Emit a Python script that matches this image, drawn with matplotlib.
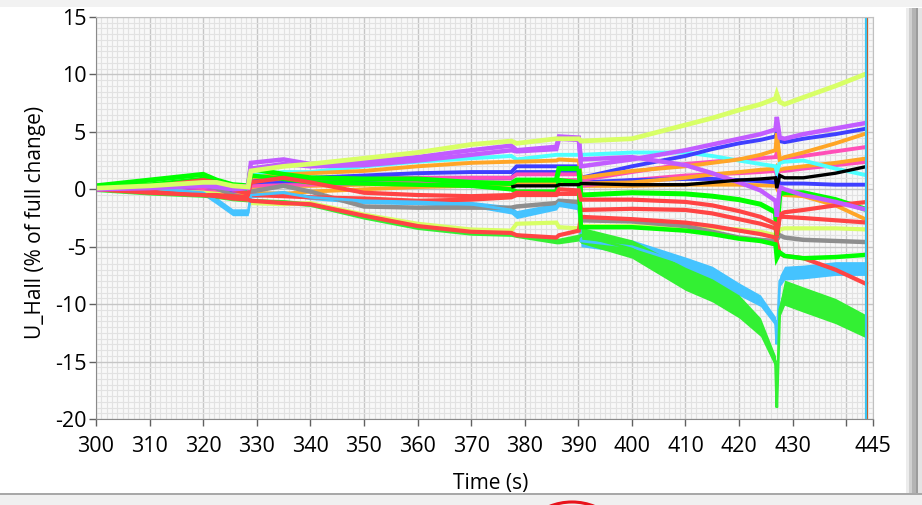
import numpy as np
import matplotlib
matplotlib.use("Agg")
import matplotlib.pyplot as plt
from matplotlib.patches import Rectangle, Circle
from matplotlib.transforms import IdentityTransform

plt.rcParams['font.family'] = ['Open Sans', 'DejaVu Sans']
plt.rcParams['axes.unicode_minus'] = False

# Sample times (s) at which every channel is tabulated
time_s = [300, 310, 320, 322.5, 325.5, 328.4, 328.9, 335, 340, 350, 360, 370,
          377.5, 378.5, 385.9, 386.4, 390.1, 390.5, 400, 410, 415, 420, 424,
          426.8, 427.05, 427.6, 428.5, 432, 438, 444]

# U_Hall channels, % of full change
yg_top = [0.1, 0.3, 0.6, 0.6, 0.3, 0.2, 1.6, 2.0, 2.2, 2.7, 3.2, 3.9, 4.2, 4.0, 4.4, 4.4, 4.4, 4.2, 4.4, 5.6, 6.2, 6.9, 7.4, 7.9, 8.3, 7.6, 7.4, 8.0, 9.0, 10.1]
purple_top = [0.0, 0.2, 0.4, 0.3, 0.2, 0.3, 2.3, 2.6, 2.2, 2.4, 2.8, 3.4, 3.8, 3.4, 3.7, 4.6, 4.5, 2.0, 2.6, 3.4, 3.9, 4.4, 4.8, 5.2, 6.3, 4.5, 4.4, 4.8, 5.3, 5.8]
purple_down = [0.0, 0.1, 0.3, 0.2, 0.0, 0.1, 1.8, 2.2, 2.0, 2.1, 2.5, 3.0, 3.4, 3.3, 3.5, 4.4, 4.3, 2.6, 2.8, 2.1, 1.4, 0.6, -0.1, -1.0, -2.4, 0.2, 0.0, -0.5, -1.1, -1.8]
blue_a = [0.0, 0.1, 0.3, 0.2, 0.0, 0.0, 0.9, 1.0, 1.0, 1.2, 1.4, 1.5, 1.5, 2.0, 2.0, 2.0, 2.0, 1.0, 2.0, 2.9, 3.5, 4.0, 4.3, 4.6, 5.0, 4.2, 4.1, 4.4, 4.8, 5.3]
blue_b = [0.0, 0.0, 0.2, 0.1, -0.1, -0.1, 0.6, 0.7, 0.7, 0.8, 1.0, 1.0, 1.0, 1.5, 1.5, 1.5, 1.5, 0.6, 0.8, 0.9, 0.9, 0.8, 0.7, 0.6, 1.0, 0.5, 0.5, 0.5, 0.4, 0.4]
orange_a = [0.0, 0.1, 0.4, 0.3, 0.1, 0.1, 1.0, 1.3, 1.4, 1.6, 2.0, 2.3, 2.4, 2.4, 2.5, 2.6, 2.5, 1.0, 1.6, 2.0, 2.3, 2.6, 3.0, 3.4, 4.9, 2.6, 2.8, 3.2, 4.0, 4.9]
orange_b = [0.0, -0.2, -0.3, -0.4, -0.5, -0.6, -0.3, -0.4, -0.2, 0.0, 0.2, 0.3, 0.4, 0.6, 0.6, 0.6, 0.6, 0.5, 0.6, 1.0, 1.3, 1.5, 1.7, 1.8, 2.0, 1.7, 1.8, 2.0, 2.3, 2.7]
orange_c = [0.0, -0.1, -0.2, -0.2, -0.3, -0.3, 0.2, 0.3, 0.3, 0.4, 0.5, 0.5, 0.5, 0.7, 0.7, 0.7, 0.7, 0.3, 0.3, 0.4, 0.4, 0.4, 0.35, 0.3, 0.1, -0.4, -0.5, -0.6, -1.4, -2.7]
pink_a = [0.0, 0.0, 0.2, 0.1, 0.0, -0.1, 0.8, 0.9, 0.9, 1.0, 1.0, 1.0, 1.0, 1.3, 1.3, 1.3, 1.3, 0.8, 1.5, 2.2, 2.4, 2.6, 2.7, 2.8, 3.2, 2.6, 2.7, 2.9, 3.3, 3.7]
pink_b = [0.0, -0.1, 0.0, -0.1, -0.2, -0.3, 0.3, 0.4, 0.4, 0.5, 0.6, 0.6, 0.6, 0.8, 0.8, 0.8, 0.8, 0.3, 0.8, 1.2, 1.3, 1.4, 1.5, 1.6, 1.2, 1.6, 1.6, 1.8, 2.1, 2.4]
cyan = [0.0, 0.1, 0.5, 0.4, 0.2, 0.2, 1.2, 1.5, 1.5, 2.0, 2.4, 2.7, 2.9, 2.6, 3.0, 3.0, 3.0, 3.0, 3.2, 3.2, 2.9, 2.5, 2.2, 2.0, 1.5, 2.3, 2.4, 2.5, 1.8, 1.2]
black = [np.nan] * 12 + [0.2, 0.3, 0.3, 0.4, 0.4, 0.5, 0.4, 0.4, 0.6, 0.8, 0.9, 1.0, 0.1, 1.2, 1.0, 1.0, 1.4, 2.0]
green_a = [0.3, 0.8, 1.3, 0.8, 0.4, 0.3, 1.8, 1.3, 1.0, 0.9, 0.9, 0.6, 0.5, 0.8, 0.8, 1.8, 1.8, -0.5, -0.3, -0.4, -0.6, -0.9, -1.3, -2.0, -4.0, -0.4, -0.3, -0.3, -0.9, -1.8]
green_b = [0.1, 0.4, 0.9, 0.6, 0.1, 0.0, 1.2, 0.9, 0.6, 0.5, 0.4, 0.3, 0.0, -0.2, -0.2, 0.8, 0.6, -3.3, -3.3, -3.6, -3.9, -4.3, -4.5, -4.8, -6.0, -5.5, -5.8, -6.0, -5.9, -5.7]
green_c = [0.0, -0.3, -0.5, -0.6, -0.8, -0.9, -1.0, -1.1, -1.3, -2.4, -3.3, -3.8, -3.9, -4.0, -4.5, -4.5, -4.2, -4.0, -5.2, -7.8, -8.8, -10.2, -12.0, -15.0, -19.0, -10.5, -9.0, -9.6, -10.6, -12.0]
light_blue = [0.0, 0.1, -0.3, -1.0, -2.0, -2.0, -0.5, -0.3, -0.7, -1.0, -1.1, -1.3, -1.8, -2.2, -1.5, -1.2, -1.5, -4.5, -5.0, -6.5, -7.3, -8.7, -9.7, -11.5, -13.5, -8.0, -7.3, -7.2, -6.9, -6.9]
gray = [0.0, 0.1, 0.4, 0.1, -0.5, -0.8, -0.2, 0.3, -0.2, -1.5, -1.6, -1.6, -1.6, -1.5, -1.2, -1.0, -1.1, -2.7, -2.8, -3.2, -3.7, -4.2, -4.4, -4.5, -4.4, -4.0, -4.2, -4.4, -4.5, -4.6]
red_a = [0.0, 0.2, 0.8, 0.6, 0.0, -0.4, 0.6, 1.0, 0.6, -0.3, -0.5, -0.6, -0.5, -0.3, -0.4, 0.0, -0.1, -0.9, -0.9, -1.1, -1.4, -1.9, -2.4, -3.0, -4.0, -2.2, -2.0, -1.8, -1.4, -1.1]
red_b = [0.0, -0.2, -0.5, -0.5, -0.6, -0.7, -0.5, -0.6, -0.7, -0.8, -1.0, -0.9, -0.7, -0.5, -0.5, -0.4, -0.4, -1.8, -1.7, -1.8, -2.1, -2.6, -3.0, -3.4, -4.2, -2.4, -2.4, -2.5, -2.7, -2.9]
red_c = [0.0, -0.3, -0.5, -0.6, -0.8, -0.9, -1.0, -1.2, -1.3, -2.3, -3.2, -3.7, -3.8, -4.0, -4.2, -4.0, -3.6, -2.4, -2.6, -2.9, -3.2, -3.6, -3.9, -4.2, -4.6, -5.6, -5.8, -6.0, -7.0, -8.3]
yg_low = [0.0, -0.1, -0.3, -0.4, -0.6, -0.8, -1.2, -1.3, -1.2, -2.2, -3.0, -3.5, -3.6, -3.0, -2.9, -3.3, -3.4, -3.2, -3.2, -3.3, -3.4, -3.5, -3.7, -4.0, -4.2, -3.5, -3.4, -3.4, -3.4, -3.5]

# half-width of the noise band on the two noisiest channels
green_c_spread = [0.2, 0.2, 0.2, 0.2, 0.2, 0.2, 0.2, 0.2, 0.2, 0.2, 0.2, 0.2, 0.2, 0.2, 0.25, 0.25, 0.3, 0.7, 0.8, 1.0, 1.0, 1.0, 0.8, 0.5, 0.2, 0.6, 1.1, 1.1, 1.1, 1.0]
light_blue_spread = [0.2, 0.2, 0.2, 0.3, 0.3, 0.3, 0.25, 0.2, 0.2, 0.25, 0.25, 0.25, 0.35, 0.35, 0.3, 0.3, 0.3, 0.5, 0.6, 0.6, 0.6, 0.55, 0.5, 0.4, 0.2, 0.5, 0.6, 0.6, 0.6, 0.6]

# Drawing order, colour and trace width of each channel
channels = [
    (orange_c, '#ffa526', 2.8), (pink_b, '#ff4fb8', 2.8), (blue_b, '#3f3fff', 2.8),
    (orange_b, '#ffa526', 2.8), (pink_a, '#ff4fb8', 2.8), (cyan, '#4dffff', 2.8),
    (blue_a, '#3f3fff', 2.8), (orange_a, '#ffa526', 2.8), (yg_low, '#d8ff66', 3.0),
    (gray, '#8e8e8e', 3.2), (red_b, '#ff4444', 3.0),
    (light_blue, '#45c3ff', 2.0), (green_c, '#33f033', 2.0), (red_c, '#ff4444', 3.0),
    (green_b, '#00ff00', 3.2), (green_a, '#00ff00', 3.6),
    (red_a, '#ff4444', 3.0), (purple_down, '#c25cff', 3.2), (purple_top, '#c25cff', 3.2),
    (yg_top, '#d8ff66', 3.4), (black, '#000000', 2.4),
]
bands = {id(green_c): green_c_spread, id(light_blue): light_blue_spread}

x_ticks = [300, 310, 320, 330, 340, 350, 360, 370, 380, 390, 400, 410, 420, 430, 440, 445]
x_tick_labels = ['300', '310', '320', '330', '340', '350', '360', '370', '380', '390',
                 '400', '410', '420', '430', '', '445']
y_ticks = [-20, -15, -10, -5, 0, 5, 10, 15]
cursor_t = 443.7

W, H = 922, 505
fig = plt.figure(figsize=(W / 100, H / 100), dpi=100)
fig.patch.set_facecolor('white')

# window chrome: top strip, right bar, bottom separator
fig.add_artist(Rectangle((0, 1 - 7 / H), 1, 7 / H, transform=fig.transFigure,
                         facecolor='#f2f2f2', edgecolor='none'))
for x0, x1, c in [(906, 909, '#ececec'), (909, 912, '#d0d0d0'), (912, 916, '#b4b4b4'),
                  (916, 918, '#9c9c9c'), (918, 922, '#e4e4e4')]:
    fig.add_artist(Rectangle((x0 / W, 1 - 494 / H), (x1 - x0) / W, (494 - 8) / H,
                             transform=fig.transFigure, facecolor=c, edgecolor='none'))
fig.add_artist(Rectangle((0, 0), 1, 11 / H, transform=fig.transFigure,
                         facecolor='#f0f0f0', edgecolor='none'))
fig.add_artist(Rectangle((0, 10.5 / H), 1, 1.2 / H, transform=fig.transFigure,
                         facecolor='#a8a8a8', edgecolor='none'))
ring = Circle((572, -57), 60, fill=False, edgecolor='#e8141c', linewidth=2.2)
ring.set_transform(IdentityTransform())
fig.add_artist(ring)

ax = fig.add_axes([96 / W, 1 - 419 / H, (873 - 96) / W, (419 - 17) / H])
ax.set_facecolor('#f8f8f8')
ax.set_xlim(300, 445)
ax.set_ylim(-20, 15)

ax.set_xticks(np.arange(300, 446, 1), minor=True)
ax.set_yticks(np.arange(-20, 15.01, 0.5), minor=True)
ax.set_xticks(x_ticks)
ax.set_xticklabels(x_tick_labels)
ax.set_yticks(y_ticks)
ax.set_yticklabels([str(v) for v in y_ticks])
ax.grid(which='minor', color='#e2e2e2', linewidth=0.8)
ax.grid(which='major', color='#c6c6c6', linewidth=1.0)
ax.set_axisbelow(True)
ax.tick_params(which='minor', length=0)
ax.tick_params(which='major', length=5, width=1, color='#606060',
               labelsize=15.5, labelcolor='black')
ax.tick_params(axis='x', pad=7)
ax.tick_params(axis='y', pad=2)
for side in ['left', 'bottom']:
    ax.spines[side].set_color('#8a8a8a')
for side in ['top', 'right']:
    ax.spines[side].set_color('#c0c0c0')

t = np.array(time_s)
for vals, col, lw in channels:
    v = np.array(vals, dtype=float)
    if id(vals) in bands:
        s = np.array(bands[id(vals)])
        ax.fill_between(t, v - s, v + s, color=col, linewidth=0)
    ax.plot(t, v, color=col, linewidth=lw,
            solid_joinstyle='miter', solid_capstyle='butt')

ax.axvline(cursor_t, color='#3cc4f0', linewidth=1.6)
ax.axvline(cursor_t + 0.2, color='#c0602a', linewidth=0.7)

fig.text(36 / W, 1 - 222 / H, 'U_Hall (% of full change)', rotation=90,
         ha='center', va='center', fontsize=15, color='black')
fig.text(491 / W, 1 - 484 / H, 'Time (s)', ha='center', va='center',
         fontsize=15, color='black')

fig.savefig('out.png', dpi=100)
